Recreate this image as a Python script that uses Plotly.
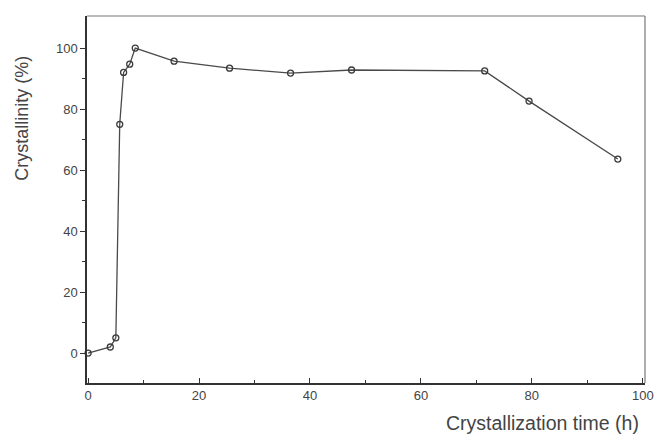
import plotly.graph_objects as go

time_h = [0, 4, 5, 5.7, 6.4, 7.5, 8.5, 15.5, 25.5, 36.5, 47.5, 71.5, 79.5, 95.5]
crystallinity = [0, 2, 5, 75, 92, 94.7, 100, 95.7, 93.4, 91.8, 92.8, 92.5, 82.6, 63.6]
x_ticks = [0, 20, 40, 60, 80, 100]
y_ticks = [0, 20, 40, 60, 80, 100]

fig = go.Figure()
fig.add_trace(go.Scatter(
    x=time_h, y=crystallinity, mode="lines+markers",
    line=dict(color="#4a4a4a", width=1.3),
    marker=dict(symbol="circle-open", size=6, color="#3a3a3a", line=dict(width=1.3)),
    showlegend=False, cliponaxis=False,
))

font = dict(family="Liberation Sans, Arial, sans-serif", color="#444444")

fig.update_layout(
    width=654, height=429,
    margin=dict(l=79, r=12, t=8, b=54),
    paper_bgcolor="white", plot_bgcolor="white",
    font=font,
    xaxis=dict(
        range=[-0.2, 100.4], tickvals=x_ticks, ticks="inside", ticklen=5, tickwidth=1.2,
        tickcolor="#333", showline=True, linecolor="#333", linewidth=1.5,
        showgrid=False, zeroline=False, tickfont=dict(size=13, color="#444"),
        minor=dict(tickvals=[10, 30, 50, 70, 90], ticks="inside", ticklen=3, tickcolor="#333"),
    ),
    yaxis=dict(
        range=[-9.8, 110.5], tickvals=y_ticks, ticks="outside", ticklen=5, tickwidth=1.2,
        tickcolor="#333", showline=True, linecolor="#333", linewidth=1.5,
        showgrid=False, zeroline=False, tickfont=dict(size=13, color="#444"),
        minor=dict(tickvals=[10, 30, 50, 70, 90], ticks="outside", ticklen=3, tickcolor="#333"),
    ),
    shapes=[
        dict(type="line", xref="paper", yref="paper", x0=0, x1=1, y0=1, y1=1,
             line=dict(color="#777", width=1.2)),
        dict(type="line", xref="paper", yref="paper", x0=1, x1=1, y0=0, y1=1,
             line=dict(color="#777", width=1.2)),
    ],
    annotations=[
        dict(text="Crystallization time (h)", xref="paper", yref="paper",
             x=1, y=0, xanchor="right", yanchor="middle", yshift=-40, xshift=-4,
             showarrow=False, font=dict(size=19.5, color="#444")),
        dict(text="Crystallinity (%)", xref="paper", yref="paper",
             x=0, y=0.72, xanchor="center", yanchor="middle", xshift=-65,
             textangle=-90, showarrow=False, font=dict(size=18, color="#444")),
    ],
)

fig.write_html("out.html")
